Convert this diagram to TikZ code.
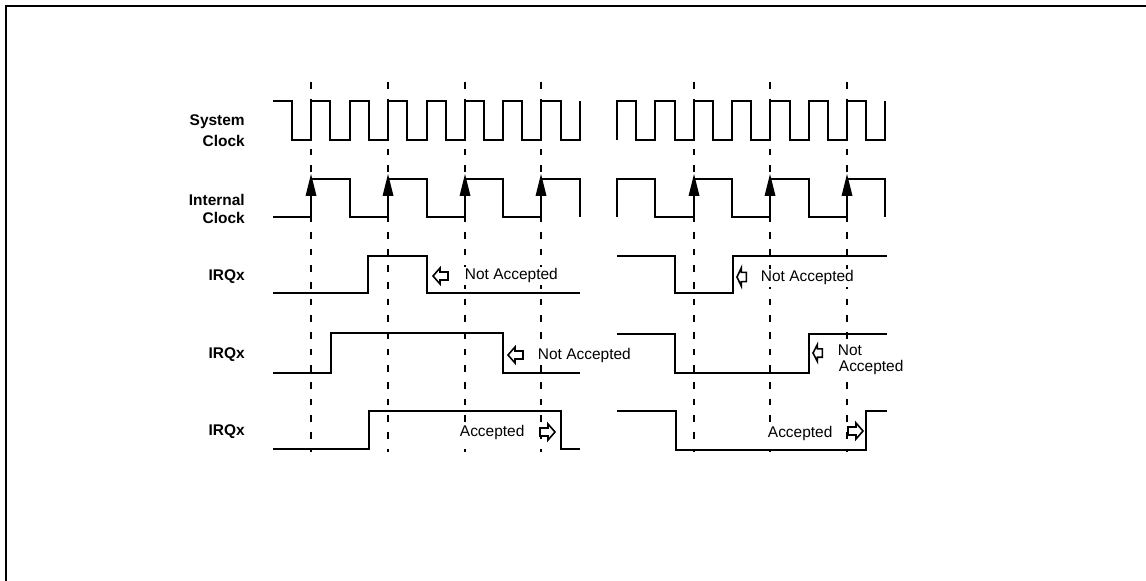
\documentclass[tikz,border=0pt]{standalone}
\usepackage{fontspec}
\setmainfont{Liberation Sans}
\begin{document}
\begin{tikzpicture}[x=0.75pt,y=-0.75pt,
  wave/.style={line width=1.5pt,line join=miter},
  guide/.style={line width=0.9pt,dash pattern=on 5pt off 7.5pt},
  sig/.style={font=\fontsize{11.6}{13.9}\selectfont\bfseries,anchor=east,inner sep=0pt},
  note/.style={font=\fontsize{11.6}{13.9}\selectfont,anchor=west,inner xsep=0.5pt,inner ysep=1pt,fill=white},
  edgetip/.style={fill=black},
  pics/hollowleft/.style={code={
    \draw[line width=1.2pt,line join=miter,fill=white] (0,0) -- (7,-8) -- (7,-4) -- (15,-4) -- (15,4) -- (7,4) -- (7,8) -- cycle;}}
]
\useasboundingbox (0,0) rectangle (1146,581);
% frame
\draw[line width=1.5pt] (6,581) -- (6,6) -- (1146,6);

% guide lines
\foreach \gx in {311,388,465,541,694,770,847}
  \draw[guide] (\gx,82) -- (\gx,452);

% labels
\node[sig] (lsys1) at (245,122) {System};
\node[sig] (lsys2) at (245,141) {Clock};
\node[sig] (lint1) at (245,200) {Internal};
\node[sig] (lint2) at (245,218) {Clock};
\node[sig] (lirq1) at (245,277) {IRQx};
\node[sig] (lirq2) at (245,355) {IRQx};
\node[sig] (lirq3) at (245,432) {IRQx};

% system clock, left
\draw[wave] (273,101) -- (292,101) -- (292,140) -- (311,140) -- (311,101) -- (330,101) -- (330,140) -- (350,140) -- (350,101) -- (369,101) -- (369,140) -- (388,140) -- (388,101) -- (407,101) -- (407,140) -- (427,140) -- (427,101) -- (446,101) -- (446,140) -- (465,140) -- (465,101) -- (484,101) -- (484,140) -- (503,140) -- (503,101) -- (522,101) -- (522,140) -- (541,140) -- (541,101) -- (561,101) -- (561,140) -- (580,140) -- (580,101);
% system clock, right
\draw[wave] (617,140) -- (617,101) -- (636,101) -- (636,140) -- (655,140) -- (655,101) -- (675,101) -- (675,140) -- (694,140) -- (694,101) -- (713,101) -- (713,140) -- (732,140) -- (732,101) -- (751,101) -- (751,140) -- (770,140) -- (770,101) -- (790,101) -- (790,140) -- (809,140) -- (809,101) -- (828,101) -- (828,140) -- (847,140) -- (847,101) -- (866,101) -- (866,140) -- (885,140) -- (885,101);

% internal clock, left
\draw[wave] (273,217) -- (311,217) -- (311,179) -- (350,179) -- (350,217) -- (388,217) -- (388,179) -- (427,179) -- (427,217) -- (465,217) -- (465,179) -- (503,179) -- (503,217) -- (541,217) -- (541,179) -- (580,179) -- (580,217);
% internal clock, right
\draw[wave] (617,217) -- (617,179) -- (655,179) -- (655,217) -- (694,217) -- (694,179) -- (732,179) -- (732,217) -- (770,217) -- (770,179) -- (809,179) -- (809,217) -- (847,217) -- (847,179) -- (885,179) -- (885,217);
\foreach \ax in {311,388,465,541,694,770,847}
  \fill[edgetip] (\ax,174) -- (\ax-5.5,196) -- (\ax+5.5,196) -- cycle;

% IRQx row 1
\draw[wave] (273,293) -- (368,293) -- (368,256) -- (427,256) -- (427,293) -- (580,293);
\draw[wave] (617,256) -- (675,256) -- (675,293) -- (733,293) -- (733,256) -- (887,256);
\pic at (433,276) {hollowleft};
\pic[xscale=0.62,yscale=1.15] at (737,277) {hollowleft};
\node[note] (na1) at (464,276) {Not Accepted};
\node[note] (na2) at (760,278) {Not Accepted};

% IRQx row 2
\draw[wave] (273,373) -- (331,373) -- (331,333) -- (503,333) -- (503,373) -- (580,373);
\draw[wave] (617,334) -- (675,334) -- (675,373) -- (809,373) -- (809,334) -- (887,334);
\pic at (508,355) {hollowleft};
\pic[xscale=0.62,yscale=1.05] at (813,353) {hollowleft};
\node[note] (na3) at (537,355) {Not Accepted};
\node[note] (na4a) at (837,350) {Not};
\node[note] (na4b) at (838,368) {Accepted};

% IRQx row 3
\draw[wave] (273,449) -- (369,449) -- (369,411) -- (561,411) -- (561,449) -- (580,449);
\draw[wave] (617,411) -- (676,411) -- (676,450) -- (866,450) -- (866,411) -- (887,411);
\pic[xscale=-1] at (555,432) {hollowleft};
\pic[xscale=-1] at (863,431) {hollowleft};
\node[note] (ac1) at (459,432) {Accepted};
\node[note] (ac2) at (767,433) {Accepted};
\end{tikzpicture}
\end{document}
